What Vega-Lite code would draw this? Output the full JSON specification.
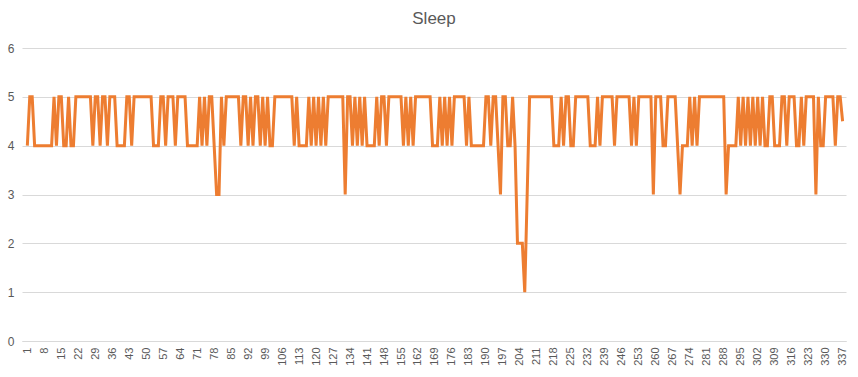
{
  "$schema": "https://vega.github.io/schema/vega-lite/v6.json",
  "width": 824,
  "height": 293,
  "autosize": {"type": "none"},
  "padding": {"left": 22, "top": 48, "right": 12, "bottom": 36},
  "background": "white",
  "title": {"text": "Sleep", "fontSize": 17, "font": "Liberation Sans", "fontWeight": "normal", "color": "#595959", "offset": 14, "anchor": "middle", "frame": "group"},
  "config": {"view": {"stroke": null}, "font": "Liberation Sans"},
  "data": {"values": [
    {"day":1,"sleep":4},{"day":2,"sleep":5},{"day":3,"sleep":5},{"day":4,"sleep":4},{"day":5,"sleep":4},{"day":6,"sleep":4},{"day":7,"sleep":4},{"day":8,"sleep":4},{"day":9,"sleep":4},{"day":10,"sleep":4},
    {"day":11,"sleep":4},{"day":12,"sleep":5},{"day":13,"sleep":4},{"day":14,"sleep":5},{"day":15,"sleep":5},{"day":16,"sleep":4},{"day":17,"sleep":4},{"day":18,"sleep":5},{"day":19,"sleep":4},{"day":20,"sleep":4},
    {"day":21,"sleep":5},{"day":22,"sleep":5},{"day":23,"sleep":5},{"day":24,"sleep":5},{"day":25,"sleep":5},{"day":26,"sleep":5},{"day":27,"sleep":5},{"day":28,"sleep":4},{"day":29,"sleep":5},{"day":30,"sleep":5},
    {"day":31,"sleep":4},{"day":32,"sleep":5},{"day":33,"sleep":5},{"day":34,"sleep":4},{"day":35,"sleep":5},{"day":36,"sleep":5},{"day":37,"sleep":5},{"day":38,"sleep":4},{"day":39,"sleep":4},{"day":40,"sleep":4},
    {"day":41,"sleep":4},{"day":42,"sleep":5},{"day":43,"sleep":5},{"day":44,"sleep":4},{"day":45,"sleep":5},{"day":46,"sleep":5},{"day":47,"sleep":5},{"day":48,"sleep":5},{"day":49,"sleep":5},{"day":50,"sleep":5},
    {"day":51,"sleep":5},{"day":52,"sleep":5},{"day":53,"sleep":4},{"day":54,"sleep":4},{"day":55,"sleep":4},{"day":56,"sleep":5},{"day":57,"sleep":5},{"day":58,"sleep":4},{"day":59,"sleep":5},{"day":60,"sleep":5},
    {"day":61,"sleep":5},{"day":62,"sleep":4},{"day":63,"sleep":5},{"day":64,"sleep":5},{"day":65,"sleep":5},{"day":66,"sleep":5},{"day":67,"sleep":4},{"day":68,"sleep":4},{"day":69,"sleep":4},{"day":70,"sleep":4},
    {"day":71,"sleep":4},{"day":72,"sleep":5},{"day":73,"sleep":4},{"day":74,"sleep":5},{"day":75,"sleep":4},{"day":76,"sleep":5},{"day":77,"sleep":5},{"day":78,"sleep":4},{"day":79,"sleep":3},{"day":80,"sleep":3},
    {"day":81,"sleep":5},{"day":82,"sleep":4},{"day":83,"sleep":5},{"day":84,"sleep":5},{"day":85,"sleep":5},{"day":86,"sleep":5},{"day":87,"sleep":5},{"day":88,"sleep":5},{"day":89,"sleep":4},{"day":90,"sleep":5},
    {"day":91,"sleep":5},{"day":92,"sleep":4},{"day":93,"sleep":5},{"day":94,"sleep":4},{"day":95,"sleep":5},{"day":96,"sleep":5},{"day":97,"sleep":4},{"day":98,"sleep":5},{"day":99,"sleep":4},{"day":100,"sleep":5},
    {"day":101,"sleep":4},{"day":102,"sleep":4},{"day":103,"sleep":5},{"day":104,"sleep":5},{"day":105,"sleep":5},{"day":106,"sleep":5},{"day":107,"sleep":5},{"day":108,"sleep":5},{"day":109,"sleep":5},{"day":110,"sleep":5},
    {"day":111,"sleep":4},{"day":112,"sleep":5},{"day":113,"sleep":4},{"day":114,"sleep":4},{"day":115,"sleep":4},{"day":116,"sleep":4},{"day":117,"sleep":5},{"day":118,"sleep":4},{"day":119,"sleep":5},{"day":120,"sleep":4},
    {"day":121,"sleep":5},{"day":122,"sleep":4},{"day":123,"sleep":5},{"day":124,"sleep":4},{"day":125,"sleep":5},{"day":126,"sleep":5},{"day":127,"sleep":5},{"day":128,"sleep":5},{"day":129,"sleep":5},{"day":130,"sleep":5},
    {"day":131,"sleep":5},{"day":132,"sleep":3},{"day":133,"sleep":5},{"day":134,"sleep":5},{"day":135,"sleep":4},{"day":136,"sleep":5},{"day":137,"sleep":4},{"day":138,"sleep":5},{"day":139,"sleep":4},{"day":140,"sleep":5},
    {"day":141,"sleep":4},{"day":142,"sleep":4},{"day":143,"sleep":4},{"day":144,"sleep":4},{"day":145,"sleep":5},{"day":146,"sleep":4},{"day":147,"sleep":5},{"day":148,"sleep":5},{"day":149,"sleep":4},{"day":150,"sleep":5},
    {"day":151,"sleep":5},{"day":152,"sleep":5},{"day":153,"sleep":5},{"day":154,"sleep":5},{"day":155,"sleep":5},{"day":156,"sleep":4},{"day":157,"sleep":5},{"day":158,"sleep":4},{"day":159,"sleep":5},{"day":160,"sleep":4},
    {"day":161,"sleep":5},{"day":162,"sleep":5},{"day":163,"sleep":5},{"day":164,"sleep":5},{"day":165,"sleep":5},{"day":166,"sleep":5},{"day":167,"sleep":5},{"day":168,"sleep":4},{"day":169,"sleep":4},{"day":170,"sleep":4},
    {"day":171,"sleep":5},{"day":172,"sleep":4},{"day":173,"sleep":5},{"day":174,"sleep":4},{"day":175,"sleep":5},{"day":176,"sleep":4},{"day":177,"sleep":5},{"day":178,"sleep":5},{"day":179,"sleep":5},{"day":180,"sleep":5},
    {"day":181,"sleep":5},{"day":182,"sleep":4},{"day":183,"sleep":5},{"day":184,"sleep":4},{"day":185,"sleep":4},{"day":186,"sleep":4},{"day":187,"sleep":4},{"day":188,"sleep":4},{"day":189,"sleep":4},{"day":190,"sleep":5},
    {"day":191,"sleep":5},{"day":192,"sleep":4},{"day":193,"sleep":5},{"day":194,"sleep":5},{"day":195,"sleep":4},{"day":196,"sleep":3},{"day":197,"sleep":5},{"day":198,"sleep":5},{"day":199,"sleep":4},{"day":200,"sleep":4},
    {"day":201,"sleep":5},{"day":202,"sleep":4},{"day":203,"sleep":2},{"day":204,"sleep":2},{"day":205,"sleep":2},{"day":206,"sleep":1},{"day":207,"sleep":3},{"day":208,"sleep":5},{"day":209,"sleep":5},{"day":210,"sleep":5},
    {"day":211,"sleep":5},{"day":212,"sleep":5},{"day":213,"sleep":5},{"day":214,"sleep":5},{"day":215,"sleep":5},{"day":216,"sleep":5},{"day":217,"sleep":5},{"day":218,"sleep":4},{"day":219,"sleep":4},{"day":220,"sleep":4},
    {"day":221,"sleep":5},{"day":222,"sleep":4},{"day":223,"sleep":5},{"day":224,"sleep":5},{"day":225,"sleep":4},{"day":226,"sleep":4},{"day":227,"sleep":5},{"day":228,"sleep":5},{"day":229,"sleep":5},{"day":230,"sleep":5},
    {"day":231,"sleep":5},{"day":232,"sleep":5},{"day":233,"sleep":4},{"day":234,"sleep":4},{"day":235,"sleep":4},{"day":236,"sleep":5},{"day":237,"sleep":4},{"day":238,"sleep":5},{"day":239,"sleep":5},{"day":240,"sleep":5},
    {"day":241,"sleep":5},{"day":242,"sleep":5},{"day":243,"sleep":4},{"day":244,"sleep":5},{"day":245,"sleep":5},{"day":246,"sleep":5},{"day":247,"sleep":5},{"day":248,"sleep":5},{"day":249,"sleep":5},{"day":250,"sleep":4},
    {"day":251,"sleep":5},{"day":252,"sleep":4},{"day":253,"sleep":5},{"day":254,"sleep":5},{"day":255,"sleep":5},{"day":256,"sleep":5},{"day":257,"sleep":5},{"day":258,"sleep":5},{"day":259,"sleep":3},{"day":260,"sleep":5},
    {"day":261,"sleep":5},{"day":262,"sleep":5},{"day":263,"sleep":4},{"day":264,"sleep":4},{"day":265,"sleep":5},{"day":266,"sleep":5},{"day":267,"sleep":5},{"day":268,"sleep":5},{"day":269,"sleep":4},{"day":270,"sleep":3},
    {"day":271,"sleep":4},{"day":272,"sleep":4},{"day":273,"sleep":4},{"day":274,"sleep":5},{"day":275,"sleep":4},{"day":276,"sleep":5},{"day":277,"sleep":4},{"day":278,"sleep":5},{"day":279,"sleep":5},{"day":280,"sleep":5},
    {"day":281,"sleep":5},{"day":282,"sleep":5},{"day":283,"sleep":5},{"day":284,"sleep":5},{"day":285,"sleep":5},{"day":286,"sleep":5},{"day":287,"sleep":5},{"day":288,"sleep":5},{"day":289,"sleep":3},{"day":290,"sleep":4},
    {"day":291,"sleep":4},{"day":292,"sleep":4},{"day":293,"sleep":4},{"day":294,"sleep":5},{"day":295,"sleep":4},{"day":296,"sleep":5},{"day":297,"sleep":4},{"day":298,"sleep":5},{"day":299,"sleep":4},{"day":300,"sleep":5},
    {"day":301,"sleep":4},{"day":302,"sleep":5},{"day":303,"sleep":4},{"day":304,"sleep":5},{"day":305,"sleep":4},{"day":306,"sleep":4},{"day":307,"sleep":5},{"day":308,"sleep":5},{"day":309,"sleep":4},{"day":310,"sleep":4},
    {"day":311,"sleep":4},{"day":312,"sleep":5},{"day":313,"sleep":5},{"day":314,"sleep":4},{"day":315,"sleep":5},{"day":316,"sleep":5},{"day":317,"sleep":5},{"day":318,"sleep":4},{"day":319,"sleep":4},{"day":320,"sleep":5},
    {"day":321,"sleep":4},{"day":322,"sleep":5},{"day":323,"sleep":5},{"day":324,"sleep":5},{"day":325,"sleep":5},{"day":326,"sleep":3},{"day":327,"sleep":5},{"day":328,"sleep":4},{"day":329,"sleep":4},{"day":330,"sleep":5},
    {"day":331,"sleep":5},{"day":332,"sleep":5},{"day":333,"sleep":5},{"day":334,"sleep":4},{"day":335,"sleep":5},{"day":336,"sleep":5},{"day":337,"sleep":4.5}
  ]},
  "mark": {"type": "line", "color": "#ED7D31", "strokeWidth": 3, "interpolate": "linear"},
  "encoding": {
    "x": {
      "field": "day", "type": "quantitative",
      "scale": {"domain": [-1.2, 338.4], "nice": false, "zero": false},
      "axis": {
        "values": [1,8,15,22,29,36,43,50,57,64,71,78,85,92,99,106,113,120,127,134,141,148,155,162,169,176,183,190,197,204,211,218,225,232,239,246,253,260,267,274,281,288,295,302,309,316,323,330,337],
        "labelAngle": -90, "labelFontSize": 11, "labelColor": "#595959", "labelOverlap": false, "labelFlush": false,
        "grid": false, "ticks": false, "domainColor": "#D9D9D9", "title": null, "labelPadding": 6
      }
    },
    "y": {
      "field": "sleep", "type": "quantitative",
      "scale": {"domain": [0, 6], "nice": false},
      "axis": {
        "values": [0,1,2,3,4,5,6], "grid": true, "gridColor": "#D9D9D9", "domain": false, "ticks": false,
        "labelColor": "#595959", "labelFontSize": 12, "labelPadding": 8, "title": null
      }
    }
  }
}
